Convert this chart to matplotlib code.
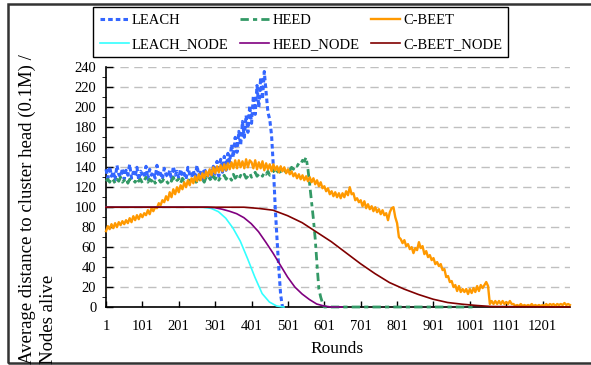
import numpy as np
import matplotlib
matplotlib.use('Agg')
import matplotlib.pyplot as plt
from matplotlib.patches import Rectangle

plt.rcParams['font.family'] = ['Liberation Serif', 'DejaVu Serif']

# rounds sampled every 5 for the noisy series
leach_rounds = np.arange(1, 487, 5)
leach = [138, 129, 141, 131, 136, 127, 142, 133, 130, 139, 128, 137, 132, 143, 129, 135, 131, 140, 127, 136,
         133, 130, 141, 128, 138, 132, 135, 129, 142, 131, 134, 128, 139, 133, 130, 137, 127, 141, 132, 136,
         129, 138, 131, 134, 128, 140, 133, 130, 137, 129, 142, 132, 135, 128, 139, 134, 131, 138, 130, 141,
         133, 146, 131, 148, 135, 151, 137, 154,
         145, 163, 150, 170, 155, 176, 162, 186, 170,
         192, 175, 202, 184, 212, 193, 222, 200, 230, 208, 236,
         215, 195, 188, 172, 140, 100, 68, 38, 12, 0]

heed_rounds = list(range(1, 602, 5)) + [1011]
heed = [126, 128, 125, 129, 127, 124, 128, 126, 130, 125, 127, 129, 124, 128, 126, 127, 125, 129, 126, 128,
        124, 127, 130, 125, 128, 126, 129, 124, 127, 128, 125, 126, 129, 127, 124, 128, 126, 130, 125, 127,
        128, 124, 129, 126, 127, 125, 128, 130, 126, 127, 124, 129, 126, 128, 125, 130, 127, 129, 126, 131,
        128, 131, 127, 130, 129, 132, 128, 131, 130, 127, 133, 129, 131, 128, 132, 130, 133, 129, 131, 134,
        130, 132, 135, 131, 133,
        134, 131, 135, 133, 136, 132, 134, 137, 133, 135, 138, 134, 136, 137, 135, 138,
        137, 140, 138, 142, 141, 144, 143, 147, 146, 150,
        138, 122, 105, 88, 68, 42, 18, 10, 4, 0,
        0]

cbeet_rounds = np.arange(1, 1277, 5)
cbeet = [76, 81, 78, 83, 79, 84, 80, 85, 82, 86, 83, 87, 84, 89, 85, 91, 87, 92, 88, 93,
         90, 94, 92, 97, 93, 99, 96, 100, 99, 104, 102, 107, 105, 111, 107, 115, 110, 118, 113, 120,
         115, 122, 118, 125, 120, 127, 122, 129, 124, 131, 126, 133, 127, 134, 129, 136, 131, 138, 132, 140,
         134, 141, 135, 142, 136, 143, 137, 144, 138, 145, 139, 147, 139, 147, 140, 146, 139, 148, 140, 147,
         145, 139, 147, 138, 145, 139, 146, 137, 144, 138, 143, 136, 143, 137, 141, 135, 141, 136, 140, 134,
         138, 133, 136, 131, 134, 129, 133, 128, 132, 127, 131, 126, 130, 125, 129, 123, 127, 121, 125, 119,
         121, 116, 119, 113, 116, 111, 115, 110, 114, 109, 114, 110, 116, 112, 120, 113, 114, 107, 109, 105,
         107, 101, 106, 99, 103, 98, 101, 96, 100, 95, 98, 93, 97, 92, 94, 87, 95, 99, 100, 90,
         84, 70, 68, 64, 67, 61, 63, 58, 60, 54, 59, 57, 65, 59, 61, 53, 56, 50, 52, 47,
         49, 43, 45, 41, 43, 37, 38, 30, 31, 25, 26, 20, 22, 16, 21, 15, 18, 15, 18, 13,
         18, 14, 19, 15, 21, 16, 22, 19, 22, 25, 21, 3, 6, 3, 6, 3, 6, 3, 6, 3,
         5, 3, 6, 3, 3, 1, 2, 1, 3, 1, 2, 1, 2, 1, 3, 1, 2, 1, 2, 1,
         2, 1, 3, 1, 3, 2, 3, 1, 3, 2, 3, 2, 4, 2, 3, 2]

leach_node_rounds = [1, 250, 270, 290, 310, 330, 350, 370, 390, 410, 430, 450, 470, 490]
leach_node = [100, 100, 99.8, 98.8, 95.5, 89, 79, 66, 48.5, 30, 13.5, 5, 1, 0]

heed_node_rounds = [1, 280, 300, 320, 340, 360, 380, 400, 420, 440, 460, 480, 500, 520, 540, 560, 580, 600, 620, 650]
heed_node = [100, 100, 99.5, 98, 96, 93.5, 89.5, 83.5, 75.5, 65, 54, 42, 30, 20, 13, 7.5, 3, 1, 0, 0]

cbeet_node_rounds = [1, 380, 420, 460, 500, 540, 580, 620, 660, 700, 740, 780, 820, 860, 900, 940, 980, 1020, 1060, 1275]
cbeet_node = [100, 100, 98.8, 97, 91.5, 84.5, 75, 65.5, 54.5, 43.5, 33.5, 24.5, 18, 12.5, 7.8, 4.5, 2.8, 1.5, 0.5, 0]

x_ticks = [1, 101, 201, 301, 401, 501, 601, 701, 801, 901, 1001, 1101, 1201]

fig = plt.figure(figsize=(5.91, 3.65), dpi=100)
ax = fig.add_axes([0.1794, 0.1589, 0.7843, 0.6562])

l1, = ax.plot(leach_rounds, leach, color='#3366ff', lw=2.2, ls=(0, (1.5, 1)), label='LEACH')
l2, = ax.plot(heed_rounds, heed, color='#339966', lw=2, ls=(0, (3, 1.5, 1.5, 1.5)), label='HEED')
l3, = ax.plot(cbeet_rounds, cbeet, color='#ff9900', lw=1.7, label='C-BEET')
l4, = ax.plot(leach_node_rounds, leach_node, color='#33ffff', lw=1.2, label='LEACH_NODE')
l5, = ax.plot(heed_node_rounds, heed_node, color='#800080', lw=1.2, label='HEED_NODE')
l6, = ax.plot(cbeet_node_rounds, cbeet_node, color='#800000', lw=1.2, label='C-BEET_NODE')
for ln in [l1, l2, l3, l4, l5, l6]:
    ln.set_clip_on(False)
    ln.set_zorder(3)

ax.set_xlim(1, 1275)
ax.set_ylim(0, 240)
ax.set_xticks(x_ticks)
ax.set_yticks(range(0, 241, 20))
ax.set_yticks(range(0, 241, 10), minor=True)
ax.tick_params(axis='both', direction='in', labelsize=10.5, width=1, color='black')
ax.tick_params(axis='x', length=4, pad=9)
ax.tick_params(axis='y', which='major', length=5, pad=7)
ax.tick_params(axis='y', which='minor', length=3)
for s in ['top', 'right']:
    ax.spines[s].set_visible(False)
for s in ['left', 'bottom']:
    ax.spines[s].set_linewidth(1.2)
ax.yaxis.grid(True, color='#c0c0c0', ls=(0, (6, 4)), lw=1)
ax.set_axisbelow(True)

fig.text(337 / 591, 1 - 349 / 365, 'Rounds', ha='center', va='center', fontsize=12.5)
fig.text(38 / 591, 0.004, 'Average distance to cluster head (0.1M) /\nNodes alive',
         rotation=90, ha='center', va='bottom', multialignment='left', fontsize=13.5, linespacing=1.35)

fig.legend([l1, l4, l2, l5, l3, l6], ['LEACH', 'LEACH_NODE', 'HEED', 'HEED_NODE', 'C-BEET', 'C-BEET_NODE'],
           ncol=3, loc='upper left', bbox_to_anchor=(93 / 591, 1 - 7 / 365), fontsize=10.5,
           frameon=True, fancybox=False, edgecolor='black', framealpha=1,
           handlelength=2.0, handletextpad=0.2, columnspacing=0.8, labelspacing=0.75,
           borderpad=0.45, borderaxespad=0)

fig.patches.append(Rectangle((8 / 591, 2 / 365), 1.0, 1 - 6 / 365, transform=fig.transFigure,
                             fill=False, edgecolor='#333333', lw=1.8))

fig.savefig('out.png', dpi=100)
